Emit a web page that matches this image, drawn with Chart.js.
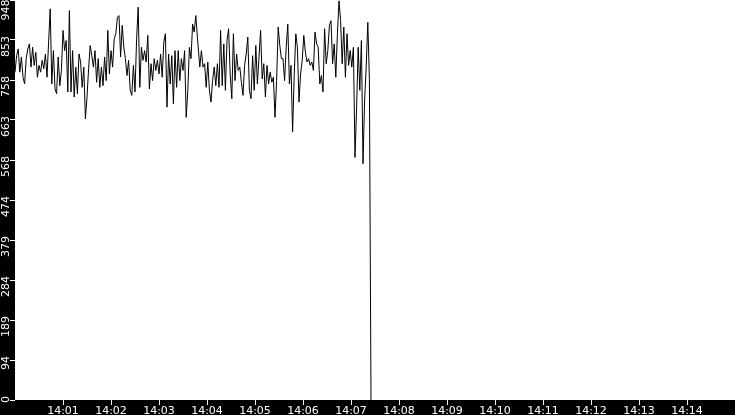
<!DOCTYPE html>
<html>
<head>
<meta charset="utf-8">
<script src="https://cdn.jsdelivr.net/npm/chart.js@4.4.0/dist/chart.umd.min.js"></script>
<style>
  html, body { margin: 0; padding: 0; background: #000; }
  #wrap { width: 735px; height: 415px; }
</style>
</head>
<body>
<div id="wrap"><canvas id="rateChart"></canvas></div>
<script>
// samples, one every 2 seconds
// first run starts at 14:00:00
const valuesA = [
    777, 816, 832, 777, 813, 765, 749, 809, 832, 844, 789, 836, 793, 824, 765, 793,
    777, 805, 785, 820, 765, 848, 927, 749, 828, 737, 726, 813, 745, 781, 876, 828,
    852, 730, 923, 730, 828, 718, 789, 726, 820, 801, 741, 789, 666, 718, 785, 840,
    816, 789, 828, 753, 809, 741, 789, 745, 813, 757, 876, 773, 828, 789, 856, 868,
    907, 911, 813, 888, 836, 809, 769, 805, 734, 722, 793, 730, 856, 931, 741, 836,
    805, 828, 801, 864, 737, 797, 757, 809, 781, 805, 773, 820, 765, 848, 868, 694,
    820, 749, 816, 702, 828, 741, 828, 757, 809, 781, 828, 670, 734, 836, 809, 891,
    872, 911, 860
];
// second run starts at 14:03:51, ends with the drop to zero
const valuesB = [
    789, 828, 789, 797, 741, 801, 734, 706, 757, 789, 745, 797, 741, 876, 745, 844,
    734, 852, 880, 773, 714, 868, 757, 820, 781, 789, 753, 722, 793, 820, 860, 734,
    714, 816, 734, 840, 749, 813, 876, 761, 797, 718, 793, 749, 777, 753, 765, 670,
    757, 884, 840, 809, 809, 757, 836, 891, 749, 793, 635, 769, 868, 836, 706, 773,
    805, 864, 824, 801, 809, 793, 801, 781, 872, 844, 836, 749, 769, 730, 880, 797,
    828, 888, 899, 797, 844, 765, 868, 946, 899, 797, 884, 765, 868, 793, 828, 789,
    836, 575, 694, 836, 734, 852, 560, 710, 789, 895, 760, 0
];

const SAMPLE_SECONDS = 2;
const START_A = 0;
const START_B = 231;
const X_LABELS = ['14:01', '14:02', '14:03', '14:04', '14:05', '14:06', '14:07',
                  '14:08', '14:09', '14:10', '14:11', '14:12', '14:13', '14:14'];
const Y_LABELS = ['0', '94', '189', '284', '379', '474', '568', '663', '758', '853', '948'];

const points = valuesA.map((v, i) => ({ x: START_A + i * SAMPLE_SECONDS, y: v }))
    .concat(valuesB.map((v, i) => ({ x: START_B + i * SAMPLE_SECONDS, y: v })));

// black page, white plotting area
const backdrop = {
    id: 'backdrop',
    beforeDraw(chart) {
        const { ctx, chartArea } = chart;
        ctx.save();
        ctx.fillStyle = '#000';
        ctx.fillRect(0, 0, chart.width, chart.height);
        ctx.fillStyle = '#fff';
        ctx.fillRect(chartArea.left, chartArea.top,
                     chartArea.right - chartArea.left, chartArea.bottom - chartArea.top);
        ctx.restore();
    }
};

const tickFont = { family: 'DejaVu Sans', size: 11 };

new Chart(document.getElementById('rateChart'), {
    type: 'line',
    data: {
        datasets: [{
            data: points,
            borderColor: '#000',
            borderWidth: 1,
            pointRadius: 0,
            tension: 0,
            fill: false
        }]
    },
    options: {
        responsive: true,
        maintainAspectRatio: false,
        animation: false,
        layout: { padding: 0 },
        plugins: {
            legend: { display: false },
            tooltip: { enabled: false }
        },
        scales: {
            x: {
                type: 'linear',
                min: 0,
                max: 900,
                border: { display: false },
                grid: {
                    drawOnChartArea: false,
                    color: '#fff',
                    tickLength: 5
                },
                ticks: {
                    stepSize: 60,
                    color: '#fff',
                    font: tickFont,
                    padding: 0,
                    maxRotation: 0,
                    autoSkip: false,
                    callback: function(value) {
                        const label = X_LABELS[Math.round(value / 60) - 1];
                        return label === undefined ? null : label;
                    }
                },
                afterFit(scale) {
                    scale.height = 15;
                    scale.paddingLeft = 0;
                    scale.paddingRight = 0;
                }
            },
            y: {
                min: 0,
                max: 948,
                border: { display: false },
                grid: {
                    drawOnChartArea: false,
                    color: '#fff',
                    tickLength: 5
                },
                ticks: {
                    stepSize: 94.8,
                    color: '#fff',
                    font: tickFont,
                    padding: 4,
                    labelOffset: -4,
                    minRotation: 90,
                    maxRotation: 90,
                    autoSkip: false,
                    // the top label gets a trailing space so it stays inside the canvas
                    callback: function(value, index) {
                        const label = Y_LABELS[index];
                        return index === Y_LABELS.length - 1 ? label + ' ' : label;
                    }
                },
                afterFit(scale) {
                    scale.width = 15;
                    scale.paddingTop = 0;
                    scale.paddingBottom = 0;
                }
            }
        }
    },
    plugins: [backdrop]
});
</script>
</body>
</html>
